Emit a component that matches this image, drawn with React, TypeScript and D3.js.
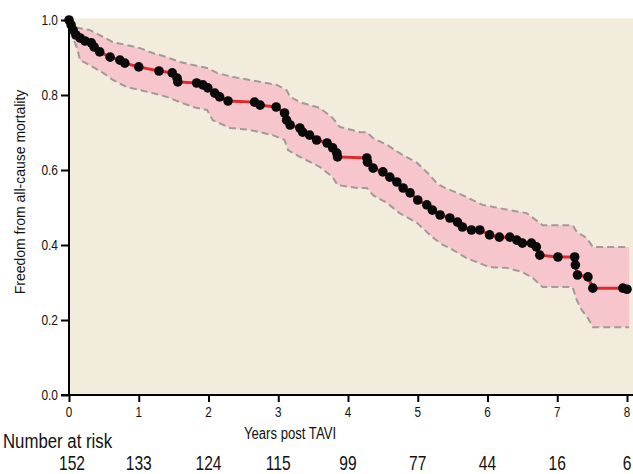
import React, { useEffect, useRef } from 'react';
import * as d3 from 'd3';

// Kaplan-Meier estimate [years, freedom]
const kmTimes = [0, 0.03, 0.06, 0.1, 0.16, 0.23, 0.32, 0.36, 0.44, 0.59, 0.73, 0.8, 1.0, 1.29, 1.48, 1.55, 1.56, 1.83, 1.92, 1.99, 2.09, 2.16, 2.28, 2.66, 2.74, 2.97, 3.09, 3.12, 3.17, 3.31, 3.35, 3.45, 3.55, 3.7, 3.78, 3.84, 3.85, 4.27, 4.28, 4.36, 4.5, 4.6, 4.7, 4.79, 4.89, 5.0, 5.13, 5.21, 5.32, 5.46, 5.57, 5.64, 5.77, 5.89, 6.03, 6.17, 6.32, 6.42, 6.5, 6.63, 6.7, 6.75, 7.01, 7.25, 7.26, 7.29, 7.44, 7.51, 7.94, 8.0];
const kmValues = [1.0, 0.987, 0.973, 0.96, 0.952, 0.944, 0.939, 0.928, 0.915, 0.901, 0.893, 0.885, 0.875, 0.864, 0.859, 0.845, 0.835, 0.832, 0.827, 0.819, 0.805, 0.795, 0.784, 0.781, 0.773, 0.768, 0.752, 0.733, 0.72, 0.712, 0.701, 0.693, 0.68, 0.672, 0.659, 0.645, 0.635, 0.632, 0.621, 0.605, 0.595, 0.581, 0.568, 0.552, 0.539, 0.52, 0.507, 0.493, 0.48, 0.472, 0.461, 0.448, 0.44, 0.44, 0.427, 0.421, 0.421, 0.413, 0.405, 0.405, 0.395, 0.373, 0.368, 0.368, 0.347, 0.32, 0.315, 0.285, 0.285, 0.282];

// 95% confidence limits
const upperTimes = [0, 0.06, 0.3, 0.49, 0.63, 0.83, 1.02, 1.2, 1.4, 1.59, 1.78, 1.98, 2.12, 2.35, 2.59, 2.98, 3.12, 3.17, 3.31, 3.6, 3.78, 3.88, 4.17, 4.27, 4.36, 4.56, 4.74, 4.99, 5.17, 5.27, 5.36, 5.64, 5.93, 6.32, 6.56, 6.79, 7.22, 7.28, 7.42, 7.51, 8.03];
const upperValues = [1.0, 0.981, 0.973, 0.955, 0.941, 0.933, 0.925, 0.912, 0.901, 0.888, 0.88, 0.872, 0.859, 0.848, 0.84, 0.827, 0.813, 0.795, 0.781, 0.765, 0.739, 0.715, 0.701, 0.701, 0.685, 0.667, 0.645, 0.619, 0.587, 0.565, 0.555, 0.533, 0.507, 0.493, 0.485, 0.453, 0.453, 0.435, 0.419, 0.395, 0.395];
const lowerTimes = [0, 0.04, 0.11, 0.16, 0.34, 0.49, 0.63, 0.83, 1.02, 1.2, 1.4, 1.59, 1.78, 1.98, 2.06, 2.31, 2.59, 2.92, 3.09, 3.14, 3.31, 3.6, 3.78, 3.85, 4.13, 4.27, 4.36, 4.56, 4.74, 4.99, 5.21, 5.36, 5.46, 5.7, 6.03, 6.28, 6.5, 6.65, 6.79, 7.22, 7.28, 7.35, 7.44, 7.51, 8.03];
const lowerValues = [1.0, 0.96, 0.928, 0.893, 0.875, 0.859, 0.84, 0.821, 0.813, 0.805, 0.795, 0.781, 0.768, 0.76, 0.733, 0.712, 0.707, 0.693, 0.68, 0.653, 0.635, 0.608, 0.581, 0.56, 0.552, 0.552, 0.533, 0.512, 0.485, 0.459, 0.421, 0.4, 0.392, 0.365, 0.341, 0.339, 0.328, 0.312, 0.288, 0.288, 0.253, 0.227, 0.205, 0.181, 0.181];

const xTicks = [0, 1, 2, 3, 4, 5, 6, 7, 8];
const yTicks = [0, 0.2, 0.4, 0.6, 0.8, 1.0];
const atRisk = [152, 133, 124, 115, 99, 77, 44, 16, 6];

const W = 633, H = 474;
const sans = '"Liberation Sans", Arial, sans-serif';

export default function App() {
  const ref = useRef<SVGSVGElement | null>(null);

  useEffect(() => {
    const svg = d3.select(ref.current);
    svg.selectAll('*').remove();

    const x = d3.scaleLinear().domain([0, 8]).range([69, 627]);
    const y = d3.scaleLinear().domain([0, 1]).range([395, 20]);

    // condensed-looking text: squeeze horizontally
    const label = (tx: number, ty: number, txt: string | number, size: number, sx: number, anchor: string) =>
      svg.append('text')
        .attr('transform', 'translate(' + tx + ',' + ty + ')scale(' + sx + ',1)')
        .attr('text-anchor', anchor)
        .attr('font-family', sans).attr('font-size', size).attr('fill', '#111')
        .text(txt);

    // plot background
    svg.append('rect')
      .attr('x', x(0)).attr('y', y(1.004))
      .attr('width', W - x(0)).attr('height', y(0) - y(1.004))
      .attr('fill', '#f1ecdc');

    const upper = upperTimes.map((t, i) => [t, upperValues[i]] as [number, number]);
    const lower = lowerTimes.map((t, i) => [t, lowerValues[i]] as [number, number]);

    // confidence band
    const bandPts = upper.concat(lower.slice().reverse());
    svg.append('path')
      .attr('d', 'M' + bandPts.map(p => x(p[0]) + ',' + y(p[1])).join('L') + 'Z')
      .attr('fill', '#f7c6cd');

    const line = d3.line<[number, number]>().x(d => x(d[0])).y(d => y(d[1]));
    [upper, lower].forEach(ci => {
      svg.append('path')
        .attr('d', line(ci))
        .attr('fill', 'none')
        .attr('stroke', '#a09a98')
        .attr('stroke-width', 2)
        .attr('stroke-dasharray', '7,4');
    });

    const km = kmTimes.map((t, i) => [t, kmValues[i]] as [number, number]);
    svg.append('path')
      .attr('d', line(km))
      .attr('fill', 'none')
      .attr('stroke', '#e3262b')
      .attr('stroke-width', 3);

    svg.selectAll('circle.km')
      .data(km)
      .enter()
      .append('circle')
      .attr('cx', d => x(d[0]))
      .attr('cy', d => y(d[1]))
      .attr('r', 4.8)
      .attr('fill', '#0a0a0a');

    // axes
    const yAxis = svg.append('g')
      .attr('transform', 'translate(' + x(0) + ',0)')
      .call(d3.axisLeft(y).tickValues(yTicks).tickFormat(() => '').tickSize(8));
    yAxis.select('.domain').attr('stroke-width', 2).attr('d', 'M0,' + y(1.004) + 'V' + y(0));
    yAxis.selectAll('.tick line').attr('stroke-width', 2);
    yTicks.forEach(v => label(x(0) - 11, y(v) + 5, d3.format('.1f')(v), 14, 0.85, 'end'));

    const xAxis = svg.append('g')
      .attr('transform', 'translate(0,' + y(0) + ')')
      .call(d3.axisBottom(x).tickValues(xTicks).tickFormat(() => '').tickSize(7));
    xAxis.select('.domain').attr('stroke-width', 2).attr('d', 'M' + (x(0) - 8) + ',0H' + W);
    xAxis.selectAll('.tick line').attr('stroke-width', 2);
    xTicks.forEach(v => label(x(v), 417, v, 15, 0.78, 'middle'));

    label(290, 439, 'Years post TAVI', 16, 0.82, 'middle');

    svg.append('text')
      .attr('transform', 'translate(25,' + 192 + ')rotate(-90)')
      .attr('text-anchor', 'middle')
      .attr('font-family', sans).attr('font-size', 14).attr('fill', '#111')
      .text('Freedom from all-cause mortality');

    label(3, 448, 'Number at risk', 21, 0.8, 'start');

    atRisk.forEach((n, i) =>
      label(Math.min(x(xTicks[i]) + (i === 0 ? 3 : 0), W - 5), 470, n, 20, 0.78, 'middle'));
  }, []);

  return (
    <svg ref={ref} width={W} height={H} style={{ position: 'absolute', left: 0, top: 0, background: '#fff' }} />
  );
}
